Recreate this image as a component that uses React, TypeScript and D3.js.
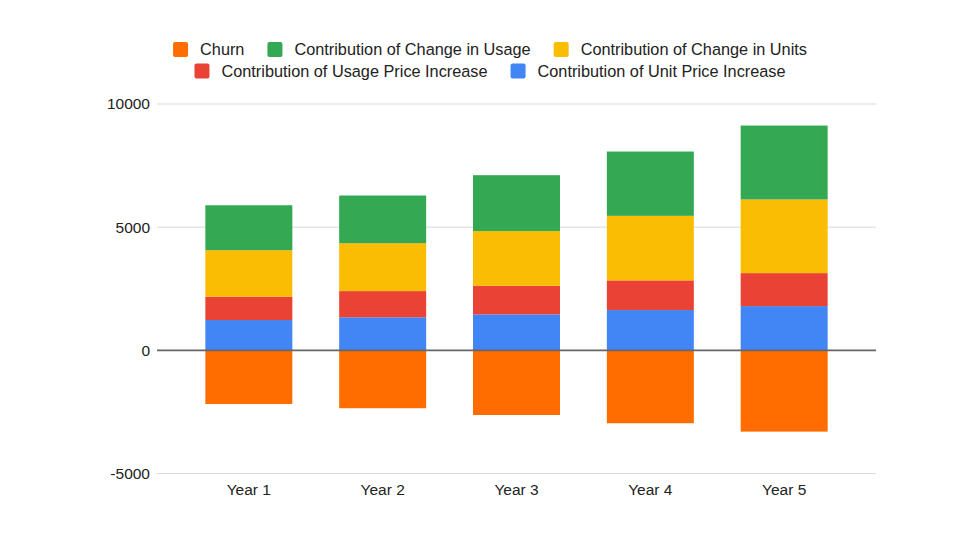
// Dependencies
import React, { useRef, useEffect } from "react";
import * as d3 from "d3";

// Chart data
const years = ["Year 1", "Year 2", "Year 3", "Year 4", "Year 5"];
const churn = [-2180, -2350, -2625, -2960, -3300];
const unitPriceIncrease = [1230, 1340, 1460, 1635, 1795];
const usagePriceIncrease = [945, 1065, 1160, 1205, 1340];
const changeInUnits = [1890, 1945, 2220, 2620, 2990];
const changeInUsage = [1825, 1935, 2270, 2610, 3000];
const yTicks = [-5000, 0, 5000, 10000];

// Series in stacking order (negatives go below zero)
const seriesNames = [
  "Churn",
  "Contribution of Unit Price Increase",
  "Contribution of Usage Price Increase",
  "Contribution of Change in Units",
  "Contribution of Change in Usage",
];
const seriesValues = [
  churn,
  unitPriceIncrease,
  usagePriceIncrease,
  changeInUnits,
  changeInUsage,
];
const seriesColors = ["#ff6d01", "#4285f4", "#ea4335", "#fbbc04", "#34a853"];

// Legend rows as they appear in the picture
const legendRows = [
  ["Churn", "Contribution of Change in Usage", "Contribution of Change in Units"],
  ["Contribution of Usage Price Increase", "Contribution of Unit Price Increase"],
];

const width = 960;
const height = 540;

const App: React.FC = () => {
  const chartRef = useRef<SVGSVGElement | null>(null);

  useEffect(() => {
    if (!chartRef.current) return;
    const root = d3.select(chartRef.current);
    root.selectAll("*").remove();

    const plot = { left: 157, right: 876, top: 104, bottom: 473.5 };
    const font = "'Liberation Sans', Arial, sans-serif";

    // Table for d3.stack
    const table = years.map((year, i) => {
      const row: any = { year };
      seriesNames.forEach((name, s) => (row[name] = seriesValues[s][i]));
      return row;
    });

    const stacked = d3
      .stack<any>()
      .keys(seriesNames)
      .offset(d3.stackOffsetDiverging)(table);

    // Scales
    const xScale = d3
      .scaleBand()
      .domain(years)
      .range([158.5, 874.5])
      .padding(0.35);
    const yScale = d3
      .scaleLinear()
      .domain([-5000, 10000])
      .range([plot.bottom, plot.top]);
    const colorScale = d3
      .scaleOrdinal<string, string>()
      .domain(seriesNames)
      .range(seriesColors);

    // Gridlines and y labels
    root
      .append("g")
      .attr("class", "grid")
      .selectAll("line")
      .data(yTicks.filter((t) => t !== 0))
      .join("line")
      .attr("x1", plot.left)
      .attr("x2", plot.right)
      .attr("y1", (d) => yScale(d))
      .attr("y2", (d) => yScale(d))
      .attr("stroke", "#d9d9d9")
      .attr("stroke-width", 1);

    root
      .append("g")
      .attr("class", "y-labels")
      .selectAll("text")
      .data(yTicks)
      .join("text")
      .attr("x", 150)
      .attr("y", (d) => yScale(d))
      .attr("dy", "0.35em")
      .attr("text-anchor", "end")
      .attr("font-family", font)
      .attr("font-size", 15.5)
      .attr("fill", "#222")
      .text((d) => String(d));

    // Bars
    root
      .append("g")
      .attr("class", "bars")
      .selectAll("g")
      .data(stacked)
      .join("g")
      .attr("fill", (d) => colorScale(d.key))
      .selectAll("rect")
      .data((d) => d)
      .join("rect")
      .attr("x", (d: any) => xScale(d.data.year)!)
      .attr("width", xScale.bandwidth())
      .attr("y", (d) => yScale(Math.max(d[0], d[1])))
      .attr("height", (d) => Math.abs(yScale(d[0]) - yScale(d[1])));

    // Zero baseline
    root
      .append("line")
      .attr("x1", plot.left)
      .attr("x2", plot.right)
      .attr("y1", yScale(0))
      .attr("y2", yScale(0))
      .attr("stroke", "#666")
      .attr("stroke-width", 1.6);

    // X axis labels
    root
      .append("g")
      .attr("class", "x-labels")
      .selectAll("text")
      .data(years)
      .join("text")
      .attr("x", (d) => xScale(d)! + xScale.bandwidth() / 2)
      .attr("y", 495)
      .attr("text-anchor", "middle")
      .attr("font-family", font)
      .attr("font-size", 15.5)
      .attr("fill", "#222")
      .text((d) => d);

    // Legend
    const size = 15;
    const gap = 12;
    const itemGap = 23;
    const legendCenter = 490;
    const rowY = [49.5, 71];
    legendRows.forEach((names, r) => {
      const row = root.append("g").attr("class", "legend-row");
      const items = row.selectAll("g").data(names).join("g");
      items
        .append("rect")
        .attr("width", size)
        .attr("height", size)
        .attr("rx", 2)
        .attr("y", rowY[r] - size / 2)
        .attr("fill", (d) => colorScale(d));
      items
        .append("text")
        .attr("x", size + gap)
        .attr("y", rowY[r])
        .attr("dy", "0.35em")
        .attr("font-family", font)
        .attr("font-size", 16.3)
        .attr("fill", "#222")
        .text((d) => d);

      // Lay items out side by side and center the row
      let cursor = 0;
      const offsets: number[] = [];
      items.each(function () {
        const t = d3.select(this).select("text").node() as SVGTextElement;
        offsets.push(cursor);
        cursor += size + gap + t.getComputedTextLength() + itemGap;
      });
      const total = cursor - itemGap;
      const start = legendCenter - total / 2;
      items.attr("transform", (_d, i) => `translate(${start + offsets[i]},0)`);
    });
  }, []);

  return (
    <svg
      ref={chartRef}
      width={width}
      height={height}
      style={{ position: "absolute", left: 0, top: 0, background: "#fff" }}
    />
  );
};

export default App;
